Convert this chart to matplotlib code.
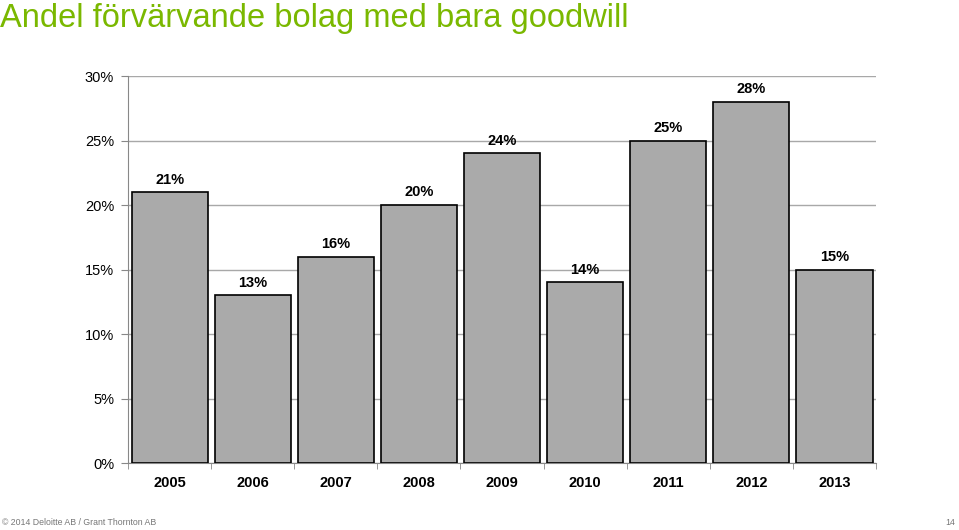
import numpy as np
import matplotlib.pyplot as plt
from matplotlib.ticker import FuncFormatter

plt.rcParams["font.family"] = ["Liberation Sans", "DejaVu Sans"]

years = ["2005", "2006", "2007", "2008", "2009", "2010", "2011", "2012", "2013"]
share = [21, 13, 16, 20, 24, 14, 25, 28, 15]
bar_labels = ["21%", "13%", "16%", "20%", "24%", "14%", "25%", "28%", "15%"]

fig = plt.figure(figsize=(9.59, 5.30), dpi=100)
ax = fig.add_axes([0.1335, 0.1264, 0.78, 0.7302])

x = np.arange(len(years))
bars = ax.bar(x, share, width=0.915, color="#aaaaaa", edgecolor="black", linewidth=1.2, zorder=3)

for b, lab in zip(bars, bar_labels):
    ax.annotate(lab, (b.get_x() + b.get_width() / 2, b.get_height()),
                xytext=(0, 4), textcoords="offset points", ha="center", va="bottom",
                fontsize=10.5, fontweight="bold")

ax.set_xlim(-0.5, len(years) - 0.5)
ax.set_ylim(0, 30)
ax.set_yticks(range(0, 31, 5))
ax.yaxis.set_major_formatter(FuncFormatter(lambda v, _: f"{int(v)}%"))
ax.grid(axis="y", color="#a8a8a8", linewidth=1, zorder=0)

ax.set_xticks(x)
ax.set_xticklabels(years, fontsize=10.5, fontweight="bold")
ax.set_xticks(np.arange(-0.5, len(years)), minor=True)
ax.tick_params(axis="x", which="major", length=0, pad=9)
ax.tick_params(axis="x", which="minor", length=4, color="#888888", direction="out")
ax.tick_params(axis="y", length=5, color="#888888", labelsize=10.5, pad=5)

for s in ["top", "right"]:
    ax.spines[s].set_visible(False)
ax.spines["left"].set_color("#888888")
ax.spines["bottom"].set_color("#888888")

fig.text(0.0, 0.949, "Andel förvärvande bolag med bara goodwill", color="#7ab800",
         fontsize=23.5, ha="left", va="baseline")
fig.text(0.002, 0.006, "© 2014 Deloitte AB / Grant Thornton AB", color="#777777",
         fontsize=6.3, ha="left", va="bottom")
fig.text(0.996, 0.006, "14", color="#777777", fontsize=6.3, ha="right", va="bottom")

fig.savefig("out.png", dpi=100)
